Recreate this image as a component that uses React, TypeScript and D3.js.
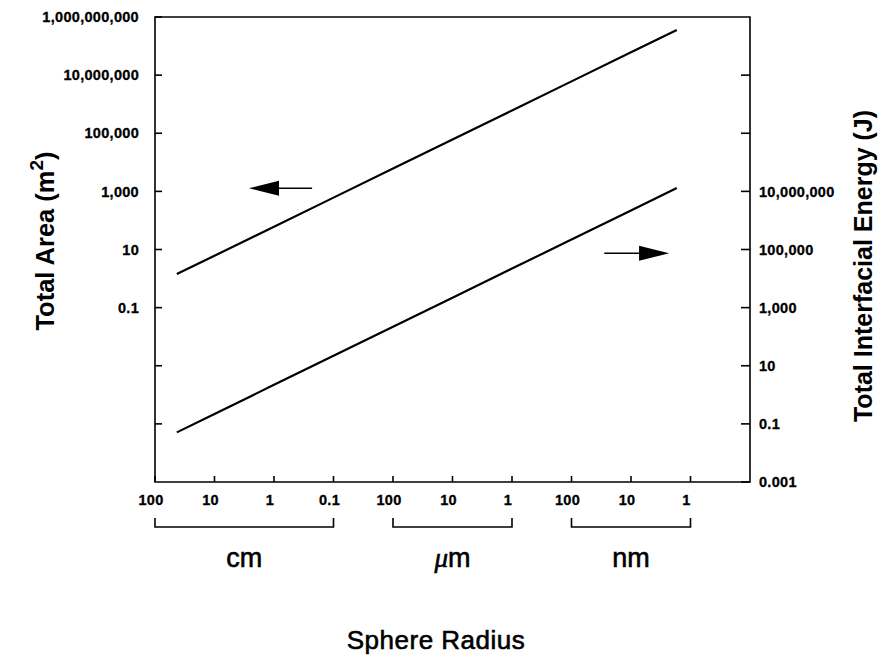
import React, { Component } from 'react';
import * as d3 from 'd3';

// sphere radius (m), with the line values at each one
const radii = [0.43, 0.1, 0.01, 1e-3, 1e-4, 1e-5, 1e-6, 1e-7, 1e-8, 1.7e-9];
const totalArea = [1.43, 6.1, 61, 610, 6100, 6.1e4, 6.1e5, 6.1e6, 6.1e7, 3.6e8];
const totalEnergy = [0.051, 0.22, 2.2, 22, 220, 2200, 2.2e4, 2.2e5, 2.2e6, 1.3e7];

const xTicks = [1, 0.1, 0.01, 1e-3, 1e-4, 1e-5, 1e-6, 1e-7, 1e-8, 1e-9];
const xTickLabels = ['100', '10', '1', '0.1', '100', '10', '1', '100', '10', '1'];
const unitGroups = [
  { label: 'cm', from: 1, to: 1e-3 },
  { label: 'm', from: 1e-4, to: 1e-6, greek: '\u03bc' },
  { label: 'nm', from: 1e-7, to: 1e-9 },
];

const leftTicks = [1e9, 1e7, 1e5, 1e3, 10, 0.1, 1e-3, 1e-5];
const leftTickLabels = ['1,000,000,000', '10,000,000', '100,000', '1,000', '10', '0.1', '', ''];
const rightTicks = [1e11, 1e9, 1e7, 1e5, 1e3, 10, 0.1, 1e-3];
const rightTickLabels = ['', '', '10,000,000', '100,000', '1,000', '10', '0.1', '0.001'];

// arrows pointing to the axis each line belongs to: [tail r, tip r, value]
const areaArrow = { tail: 10 ** -2.64, tip: 10 ** -1.58, value: 1275 };
const energyArrow = { tail: 10 ** -7.55, tip: 10 ** -8.64, value: 7.4e4 };

const FONT = '"Liberation Sans", Arial, Helvetica, sans-serif';

export default class App extends Component {
  constructor(props) {
    super(props);
    this.myRef = React.createRef();
  }

  componentDidMount() {
    this.drawChart();
  }

  drawChart() {
    const width = 891;
    const height = 658;
    const left = 155;
    const right = 750;
    const top = 17;
    const bottom = 482;

    const x = d3.scaleLog().domain([1, 1e-10]).range([left, right]);
    const yL = d3.scaleLog().domain([1e-7, 1e9]).range([bottom, top]);
    const yR = d3.scaleLog().domain([1e-3, 1e13]).range([bottom, top]);

    const root = d3.select(this.myRef.current);
    root.selectAll('*').remove();
    const svg = root
      .append('svg')
      .attr('width', width)
      .attr('height', height)
      .style('position', 'absolute')
      .style('left', 0)
      .style('top', 0)
      .style('background', '#fff');

    // frame
    svg
      .append('path')
      .attr('d', `M${left},${top}H${right}V${bottom}H${left}Z`)
      .attr('fill', 'none')
      .attr('stroke', '#000')
      .attr('stroke-width', 1.6);

    const tickText = (sel) =>
      sel
        .attr('font-family', FONT)
        .attr('font-weight', 'bold')
        .attr('font-size', 14.5)
        .attr('letter-spacing', 0.3)
        .attr('fill', '#000')
        .attr('stroke', '#000')
        .attr('stroke-width', 0.3);

    // left axis
    const gl = svg.append('g');
    leftTicks.forEach((t, i) => {
      gl.append('line')
        .attr('x1', left)
        .attr('x2', left + 7)
        .attr('y1', yL(t))
        .attr('y2', yL(t))
        .attr('stroke', '#000')
        .attr('stroke-width', 1.6);
      gl.append('text')
        .attr('x', 139)
        .attr('y', yL(t))
        .attr('dy', '0.36em')
        .attr('text-anchor', 'end')
        .text(leftTickLabels[i])
        .call(tickText);
    });

    // right axis
    const gr = svg.append('g');
    rightTicks.forEach((t, i) => {
      gr.append('line')
        .attr('x1', right - 9)
        .attr('x2', right)
        .attr('y1', yR(t))
        .attr('y2', yR(t))
        .attr('stroke', '#000')
        .attr('stroke-width', 1.6);
      gr.append('text')
        .attr('x', 759)
        .attr('y', yR(t))
        .attr('dy', '0.36em')
        .text(rightTickLabels[i])
        .call(tickText);
    });

    // bottom axis
    const gb = svg.append('g');
    xTicks.forEach((t, i) => {
      gb.append('line')
        .attr('x1', x(t))
        .attr('x2', x(t))
        .attr('y1', bottom - 6)
        .attr('y2', bottom)
        .attr('stroke', '#000')
        .attr('stroke-width', 1.6);
      gb.append('text')
        .attr('x', x(t) - 4)
        .attr('y', 505)
        .attr('text-anchor', 'middle')
        .text(xTickLabels[i])
        .call(tickText);
    });

    // unit brackets
    unitGroups.forEach((g) => {
      const x0 = x(g.from);
      const x1 = x(g.to);
      gb.append('path')
        .attr('d', `M${x0},518V527H${x1}V518`)
        .attr('fill', 'none')
        .attr('stroke', '#000')
        .attr('stroke-width', 1.6);
      const label = gb
        .append('text')
        .attr('x', (x0 + x1) / 2)
        .attr('y', 567)
        .attr('text-anchor', 'middle')
        .attr('font-family', FONT)
        .attr('font-size', 27)
        .attr('fill', '#000')
        .attr('stroke', '#000')
        .attr('stroke-width', 0.6);
      if (g.greek) {
        label
          .append('tspan')
          .attr('font-family', '"Liberation Serif", "DejaVu Serif", serif')
          .attr('font-style', 'italic')
          .text(g.greek);
      }
      label.append('tspan').text(g.label);
    });

    // lines
    const areaLine = d3
      .line()
      .x((d, i) => x(radii[i]))
      .y((d) => yL(d));
    const energyLine = d3
      .line()
      .x((d, i) => x(radii[i]))
      .y((d) => yR(d));

    svg
      .append('path')
      .attr('d', areaLine(totalArea))
      .attr('fill', 'none')
      .attr('stroke', '#000')
      .attr('stroke-width', 2.2);
    svg
      .append('path')
      .attr('d', energyLine(totalEnergy))
      .attr('fill', 'none')
      .attr('stroke', '#000')
      .attr('stroke-width', 2.2);

    // arrows
    const arrow = (a, y) => {
      const yy = y(a.value);
      const xt = x(a.tail);
      const xp = x(a.tip);
      const dir = xp > xt ? 1 : -1;
      const xb = xp - dir * 30;
      svg
        .append('line')
        .attr('x1', xt)
        .attr('x2', xb)
        .attr('y1', yy)
        .attr('y2', yy)
        .attr('stroke', '#000')
        .attr('stroke-width', 1.6);
      svg
        .append('path')
        .attr('d', `M${xp},${yy}L${xb},${yy - 7.5}L${xb},${yy + 7.5}Z`)
        .attr('fill', '#000');
    };
    arrow(areaArrow, yL);
    arrow(energyArrow, yR);

    // axis titles
    const leftTitle = svg
      .append('text')
      .attr('transform', 'translate(54,241) rotate(-90)')
      .attr('text-anchor', 'middle')
      .attr('font-family', FONT)
      .attr('font-weight', 'bold')
      .attr('font-size', 25.5)
      .attr('fill', '#000');
    leftTitle.append('tspan').text('Total Area (m');
    leftTitle.append('tspan').attr('dy', -11).attr('font-size', 19).text('2');
    leftTitle.append('tspan').attr('dy', 11).text(')');

    svg
      .append('text')
      .attr('transform', 'translate(872,266) rotate(-90)')
      .attr('text-anchor', 'middle')
      .attr('font-family', FONT)
      .attr('font-weight', 'bold')
      .attr('font-size', 25)
      .attr('fill', '#000')
      .text('Total Interfacial Energy (J)');

    svg
      .append('text')
      .attr('x', 436)
      .attr('y', 649)
      .attr('text-anchor', 'middle')
      .attr('font-family', FONT)
      .attr('font-size', 26)
      .attr('letter-spacing', 0.5)
      .attr('fill', '#000')
      .attr('stroke', '#000')
      .attr('stroke-width', 0.6)
      .text('Sphere Radius');
  }

  render() {
    return <div id="chart" ref={this.myRef} />;
  }
}
